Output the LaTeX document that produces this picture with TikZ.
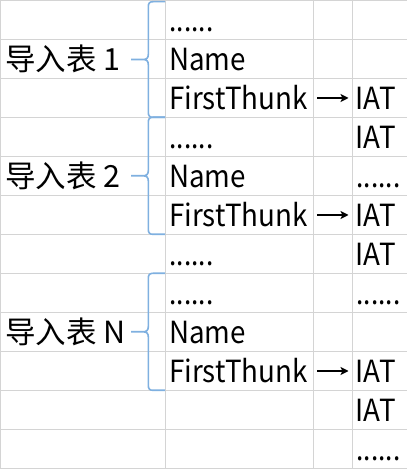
\documentclass[tikz,border=0pt]{standalone}
\usepackage{fontspec}
\usetikzlibrary{arrows.meta}
\setmainfont{Noto Sans CJK SC}
\newfontfamily\latinfont{Noto Sans CJK SC}[FakeStretch=0.91]
\newfontfamily\dotfont{Noto Sans CJK SC}[FakeStretch=0.86]
\begin{document}
\begin{tikzpicture}[x=1pt,y=1pt]
\definecolor{bracecol}{HTML}{7FB0E0}
\definecolor{gridcol}{HTML}{D4D4D4}
\tikzset{
  grid/.style={draw=gridcol, line width=1pt},
  bracestyle/.style={draw=bracecol, line width=1.6pt, line join=round},
  txt/.style={anchor=base west, inner sep=0pt, font=\fontsize{30.5}{36}\selectfont},
  lat/.style={txt, font=\fontsize{30.5}{36}\selectfont\latinfont},
  dts/.style={txt, font=\fontsize{30.5}{36}\selectfont\dotfont},
  arr/.style={draw=black, line width=1.2pt, -{Stealth[length=8pt,width=8pt,inset=2pt]}}}
\fill[white] (0,0) rectangle (407,469);
\useasboundingbox (0,0) rectangle (407,469);
% grid lines (py measured from top)
\foreach \k in {0,...,12} {
  \draw[grid] (0,{469-(39*\k+0.5)}) -- (407,{469-(39*\k+0.5)});
}
\foreach \cx in {0.5,165,313.3,352.3} {
  \draw[grid] (\cx,469) -- (\cx,0.5);
}
% braces: #1 top py, #2 bottom py
\newcommand\impbrace[2]{%
  \draw[bracestyle] (165,{469-#1}) -- (153,{469-#1})
    .. controls (149.6,{469-#1}) and (148.3,{469-#1-1.5}) .. (148.3,{469-#1-5})
    -- (148.3,{469-(#1+#2)/2+5})
    .. controls (148.3,{469-(#1+#2)/2+1.5}) and (146.5,{469-(#1+#2)/2}) .. (143,{469-(#1+#2)/2})
    -- (131,{469-(#1+#2)/2})
    (143,{469-(#1+#2)/2})
    .. controls (146.5,{469-(#1+#2)/2}) and (148.3,{469-(#1+#2)/2-1.5}) .. (148.3,{469-(#1+#2)/2-5})
    -- (148.3,{469-#2+5})
    .. controls (148.3,{469-#2+1.5}) and (149.6,{469-#2}) .. (153,{469-#2})
    -- (165,{469-#2});}
\impbrace{1.7}{117.3}
\impbrace{117.3}{234.3}
\impbrace{273.3}{390.3}
% text: baseline py = 39r - 7.3
\newcommand\by[1]{469-(39*#1-7.3)}
\newcommand\ay[1]{469-(39*#1-7.3-11.7)}
\node[dts] (d1)  at (169.5,{\by{1}}) {......};
\node[txt] (l1)  at (5,{\by{2}}) {导入表 1};
\node[lat] (nm1) at (169,{\by{2}}) {Name};
\node[lat] (ft1) at (169,{\by{3}}) {FirstThunk};
\coordinate (a1s) at (317,{\ay{3}});
\coordinate (a1e) at (348.5,{\ay{3}});
\draw[arr] (a1s) -- (a1e);
\node[lat] (i1)  at (355.5,{\by{3}}) {IAT};
\node[dts] (d2)  at (169.5,{\by{4}}) {......};
\node[lat] (i2)  at (355.5,{\by{4}}) {IAT};
\node[txt] (l2)  at (5,{\by{5}}) {导入表 2};
\node[lat] (nm2) at (169,{\by{5}}) {Name};
\node[dts] (d3)  at (356.5,{\by{5}}) {......};
\node[lat] (ft2) at (169,{\by{6}}) {FirstThunk};
\coordinate (a2s) at (317,{\ay{6}});
\coordinate (a2e) at (348.5,{\ay{6}});
\draw[arr] (a2s) -- (a2e);
\node[lat] (i3)  at (355.5,{\by{6}}) {IAT};
\node[dts] (d4)  at (169.5,{\by{7}}) {......};
\node[lat] (i4)  at (355.5,{\by{7}}) {IAT};
\node[dts] (d5)  at (169.5,{\by{8}}) {......};
\node[dts] (d6)  at (356.5,{\by{8}}) {......};
\node[txt] (l3)  at (5,{\by{9}}) {导入表 N};
\node[lat] (nm3) at (169,{\by{9}}) {Name};
\node[lat] (ft3) at (169,{\by{10}}) {FirstThunk};
\coordinate (a3s) at (317,{\ay{10}});
\coordinate (a3e) at (348.5,{\ay{10}});
\draw[arr] (a3s) -- (a3e);
\node[lat] (i5)  at (355.5,{\by{10}}) {IAT};
\node[lat] (i6)  at (355.5,{\by{11}}) {IAT};
\node[dts] (d7)  at (356.5,{\by{12}}) {......};
\end{tikzpicture}
\end{document}
